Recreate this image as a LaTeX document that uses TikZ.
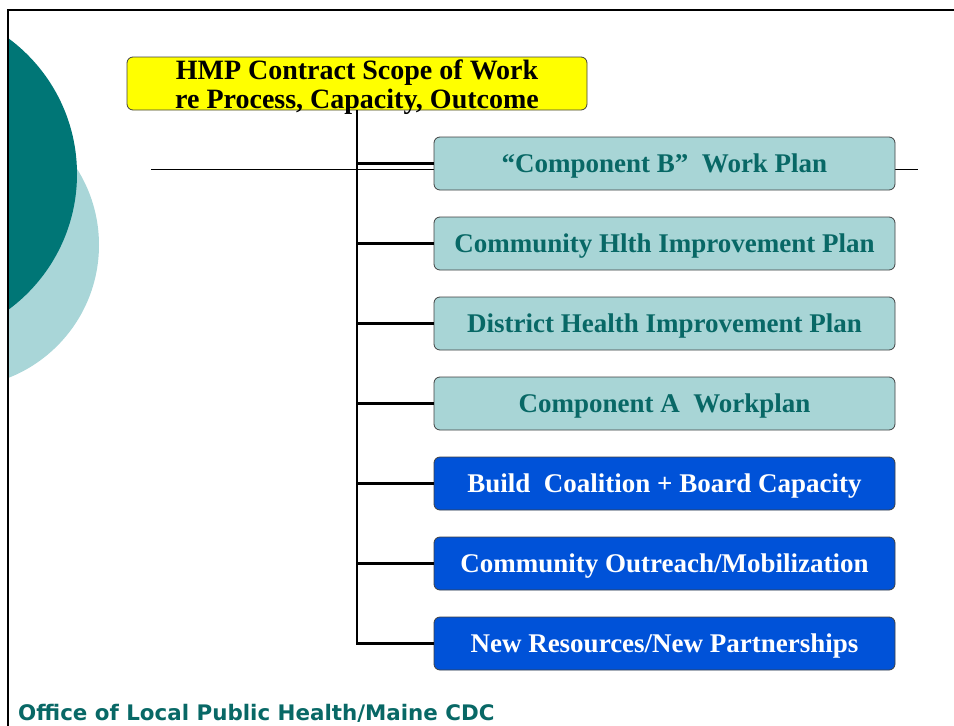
\documentclass[tikz,border=0pt]{standalone}
\usepackage{fontspec}
\setmainfont{Liberation Serif}
\newfontfamily\footfont{DejaVu Sans}
\definecolor{darkteal}{RGB}{0,118,118}
\definecolor{lightteal}{RGB}{169,214,216}
\definecolor{boxteal}{RGB}{168,213,214}
\definecolor{textteal}{RGB}{8,104,102}
\definecolor{boxblue}{RGB}{0,82,216}
\definecolor{hmpyellow}{RGB}{255,255,0}
\tikzset{
  basebox/.style={draw=black!75, line width=0.8pt, rounded corners=6pt,
    minimum width=461pt, minimum height=53pt, inner sep=0pt,
    text height=18pt, text depth=0pt,
    font=\fontsize{27}{31}\selectfont\bfseries},
  tealbox/.style={basebox, fill=boxteal, text=textteal},
  bluebox/.style={basebox, fill=boxblue, text=white},
  hmpbox/.style={draw=black!75, line width=0.8pt, rounded corners=6pt,
    fill=hmpyellow, minimum width=460pt, minimum height=53pt, inner sep=0pt},
  hmptext/.style={anchor=base, inner sep=0pt, font=\fontsize{28}{30}\selectfont\bfseries},
  conn/.style={line width=2.6pt, black},
}
\begin{document}
\begin{tikzpicture}[x=1pt,y=-1pt]
\useasboundingbox (0,0) rectangle (954,726);
\begin{scope}
  \clip (8,10) rectangle (954,726);
  \fill[lightteal] (-43.7,245) circle (142.7pt);
  \fill[darkteal] (-91.5,174) circle (168.5pt);
\end{scope}
\draw[line width=2pt] (8,726) -- (8,10) -- (954,10);
\coordinate (hl) at (151,169);
\coordinate (hr) at (918,169);
\draw[line width=1pt] (hl) -- (hr);

\node[hmpbox] (hmp) at (357,83.5) {};
\node[hmptext] (hmpa) at (357,79.5) {HMP Contract Scope of Work};
\node[hmptext] (hmpb) at (357,108) {re Process, Capacity, Outcome};

\node[tealbox] (n1) at (664.5,163.5) {``Component B''\ \ Work Plan};
\node[tealbox] (n2) at (664.5,243.5) {Community Hlth Improvement Plan};
\node[tealbox] (n3) at (664.5,323.5) {District Health Improvement Plan};
\node[tealbox] (n4) at (664.5,403.5) {Component A\ \ Workplan};
\node[bluebox] (n5) at (664.5,483.5) {Build\ \ Coalition + Board Capacity};
\node[bluebox] (n6) at (664.5,563.5) {Community Outreach/Mobilization};
\node[bluebox] (n7) at (664.5,643.5) {New Resources/New Partnerships};

\draw[conn] (hmp.south) |- (n7.west);
\foreach \n in {n1,n2,n3,n4,n5,n6}
  \draw[conn] (hmp.south |- \n.west) -- (\n.west);

\node[anchor=base west, inner sep=0pt, text=textteal,
  font=\footfont\fontsize{21.4}{24}\selectfont\bfseries] (foot) at (18,720)
  {Office of Local Public Health/Maine CDC};
\end{tikzpicture}
\end{document}
